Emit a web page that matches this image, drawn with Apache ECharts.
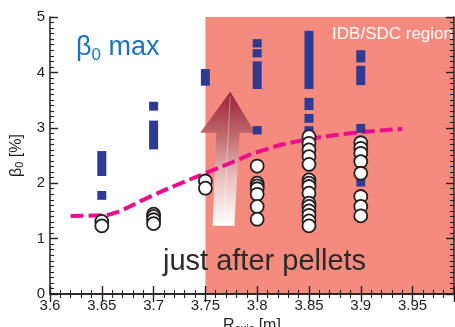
<!DOCTYPE html>
<html>
<head>
<meta charset="utf-8">
<script src="https://cdn.jsdelivr.net/npm/echarts@6/dist/echarts.min.js"></script>
<style>
  html, body { margin: 0; padding: 0; background: #fff; }
  #chart { width: 455px; height: 327px; }
</style>
</head>
<body>
<div id="chart"></div>
<script>
// beta_0 max (blue bars): [R_axis, low, high]
const betaMaxRanges = [
  [3.65, 2.13, 2.58], [3.65, 1.70, 1.86],
  [3.70, 3.31, 3.47], [3.70, 2.61, 3.13],
  [3.75, 3.76, 4.06],
  [3.80, 4.45, 4.60], [3.80, 4.27, 4.42], [3.80, 3.70, 4.20], [3.80, 2.88, 3.03],
  [3.85, 3.70, 4.75], [3.85, 3.32, 3.54], [3.85, 3.09, 3.25], [3.85, 2.61, 3.03],
  [3.90, 4.18, 4.40], [3.90, 3.77, 4.12], [3.90, 2.91, 3.07], [3.90, 1.94, 2.09]
]

// beta_0 just after pellets (open circles)
const pelletR = [
  3.65, 3.65,
  3.70, 3.70, 3.70, 3.70,
  3.75, 3.75,
  3.80, 3.80, 3.80, 3.80, 3.80, 3.80, 3.80,
  3.85, 3.85, 3.85, 3.85, 3.85, 3.85, 3.85, 3.85, 3.85, 3.85, 3.85, 3.85, 3.85, 3.85, 3.85,
  3.90, 3.90, 3.90, 3.90, 3.90, 3.90, 3.90, 3.90
]
const pelletBeta = [
  1.31, 1.23,
  1.44, 1.40, 1.34, 1.27,
  2.04, 1.91,
  2.31, 2.00, 1.95, 1.90, 1.80, 1.58, 1.35,
  2.84, 2.72, 2.60, 2.48, 2.34, 2.06, 2.00, 1.94, 1.82, 1.64, 1.58, 1.50, 1.42, 1.32, 1.23,
  2.73, 2.63, 2.54, 2.39, 2.18, 1.76, 1.58, 1.41
]

// dashed trend line
const trendR = [3.62, 3.65, 3.665, 3.69, 3.72, 3.75, 3.775, 3.80, 3.84, 3.89, 3.94]
const trendBeta = [1.41, 1.42, 1.48, 1.70, 1.95, 2.18, 2.37, 2.56, 2.76, 2.90, 2.98]

// IDB/SDC region starts here
const regionStart = 3.75

// arrow outline in data units [R, beta]
const arrowOutline = [
  [3.774, 3.65], [3.798, 2.91], [3.783, 2.91], [3.778, 1.23],
  [3.757, 1.23], [3.7605, 2.91], [3.745, 2.91]
]

const xTicks = { min: 3.6, max: 3.99, step: 0.05 }
const yTicks = { min: 0, max: 5, step: 1 }

const FONT = '"Liberation Sans", Arial, sans-serif'
const INK = '#231F20'

const chart = echarts.init(document.getElementById('chart'), null, { renderer: 'canvas' })

const axisCommon = {
  z: 10,
  axisLine: { show: true, lineStyle: { color: INK, width: 1.5 } },
  axisTick: { show: true, inside: true, length: 8, lineStyle: { color: INK, width: 1.4 } },
  minorTick: { show: true, length: 4, lineStyle: { color: INK, width: 1.1 } },
  splitLine: { show: false }
}

const option = {
  animation: false,
  backgroundColor: '#fff',
  textStyle: { fontFamily: FONT },
  grid: { left: 50, top: 17, right: 1, bottom: 33, outerBoundsMode: 'none' },
  xAxis: [
    {
      type: 'value', min: xTicks.min, max: xTicks.max, interval: xTicks.step,
      ...axisCommon,
      minorTick: { ...axisCommon.minorTick, splitNumber: 5 },
      axisLabel: {
        color: INK, fontSize: 15, fontFamily: FONT, margin: 4,
        showMaxLabel: false,
        formatter: v => String(parseFloat(v.toFixed(2)))
      },
      name: '{n|R}{s|axis}{n| [m]}',
      nameLocation: 'middle', nameGap: 15,
      nameTextStyle: {
        rich: {
          n: { fontSize: 16, color: INK, fontFamily: FONT },
          s: { fontSize: 11, color: INK, fontFamily: FONT, padding: [7, 0, 0, 0] }
        }
      }
    },
    {
      type: 'value', position: 'top', min: xTicks.min, max: xTicks.max, interval: xTicks.step,
      ...axisCommon,
      minorTick: { ...axisCommon.minorTick, splitNumber: 5 },
      axisLabel: { show: false }
    }
  ],
  yAxis: [
    {
      type: 'value', min: yTicks.min, max: yTicks.max, interval: yTicks.step,
      ...axisCommon,
      minorTick: { ...axisCommon.minorTick, splitNumber: 10 },
      axisLabel: { color: INK, fontSize: 15, fontFamily: FONT, margin: 5 },
      name: '{n|β}{s|0}{n| [%]}',
      nameLocation: 'middle', nameGap: 20, nameRotate: 90,
      nameTextStyle: {
        rich: {
          n: { fontSize: 16, color: INK, fontFamily: FONT },
          s: { fontSize: 11, color: INK, fontFamily: FONT, padding: [8, 0, 0, 0] }
        }
      }
    },
    {
      type: 'value', position: 'right', min: yTicks.min, max: yTicks.max, interval: yTicks.step,
      ...axisCommon,
      minorTick: { ...axisCommon.minorTick, splitNumber: 10 },
      axisLabel: { show: false }
    }
  ],
  series: [
    {
      // IDB/SDC shaded region
      type: 'line', data: [], z: 0, silent: true,
      markArea: {
        silent: true,
        itemStyle: { color: '#F48B7E', opacity: 1 },
        data: [[{ xAxis: regionStart }, { xAxis: xTicks.max }]]
      }
    },
    {
      // gradient arrow
      type: 'custom', z: 1, silent: true,
      data: [0],
      renderItem: (params, api) => {
        const pts = arrowOutline.map(p => api.coord(p))
        const tip = pts[0]
        const bottomMid = [(pts[3][0] + pts[4][0]) / 2, pts[3][1]]
        return {
          type: 'group',
          children: [
            {
              type: 'polygon',
              shape: { points: pts },
              style: {
                fill: new echarts.graphic.LinearGradient(0, 0, 0, 1, [
                  { offset: 0, color: '#9A2136' },
                  { offset: 0.3, color: '#BD6466' },
                  { offset: 0.65, color: '#EBC3C0' },
                  { offset: 1, color: '#FFFFFF' }
                ])
              }
            },
            {
              type: 'line',
              shape: { x1: tip[0], y1: tip[1] + 4, x2: bottomMid[0], y2: bottomMid[1] },
              style: { stroke: 'rgba(255,255,255,0.35)', lineWidth: 1 }
            }
          ]
        }
      }
    },
    {
      type: 'line', z: 2, silent: true,
      data: trendR.map((r, i) => [r, trendBeta[i]]),
      smooth: 0.5, showSymbol: false,
      lineStyle: { color: '#EC0C8C', width: 4, type: [13, 5] }
    },
    {
      // beta_0 max bars
      type: 'custom', z: 3, silent: true,
      data: betaMaxRanges,
      renderItem: (params, api) => {
        const top = api.coord([api.value(0), api.value(2)])
        const bot = api.coord([api.value(0), api.value(1)])
        return {
          type: 'rect',
          shape: { x: top[0] - 4.5, y: top[1], width: 9, height: bot[1] - top[1] },
          style: { fill: '#2F3A93' }
        }
      }
    },
    {
      type: 'scatter', z: 4, silent: true,
      data: pelletR.map((r, i) => [r, pelletBeta[i]]),
      symbol: 'circle', symbolSize: 13,
      itemStyle: { color: '#FFFFFF', borderColor: INK, borderWidth: 1.8, opacity: 1 }
    }
  ],
  graphic: [
    {
      type: 'text', left: 76, top: 34, z: 10,
      style: {
        text: '{b|β}{s|0}{b| max}',
        rich: {
          b: { fontSize: 27, fill: '#1C75BC', fontFamily: FONT },
          s: { fontSize: 17, fill: '#1C75BC', fontFamily: FONT, padding: [15, 0, 0, 0] }
        }
      }
    },
    {
      type: 'text', right: 2, top: 26, z: 10,
      style: { text: 'IDB/SDC region', fontSize: 17, fill: '#FFFFFF', fontFamily: FONT }
    },
    {
      type: 'text', left: 163, top: 247, z: 10,
      style: { text: 'just after pellets', fontSize: 29, fill: '#2A2A2A', fontFamily: FONT }
    }
  ]
}

chart.setOption(option)
</script>
</body>
</html>
